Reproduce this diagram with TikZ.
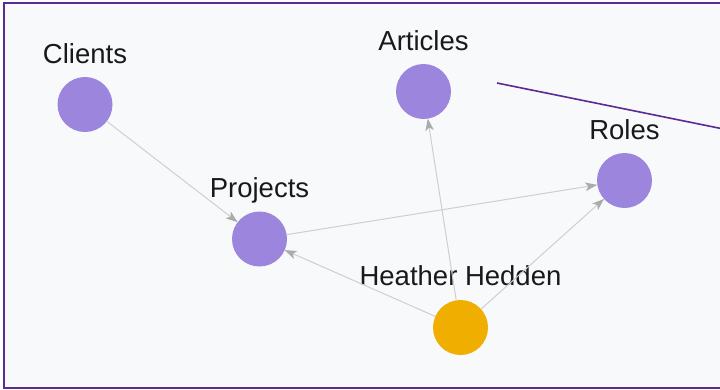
\documentclass[tikz,border=0pt]{standalone}
\usepackage{fontspec}
\setmainfont{Liberation Sans}
\usetikzlibrary{arrows.meta,calc}
\definecolor{bgpanel}{HTML}{F8F9FB}
\definecolor{framepurple}{HTML}{5B2A92}
\definecolor{nodepurple}{HTML}{9B85DD}
\definecolor{nodeorange}{HTML}{F0AE00}
\definecolor{edgegray}{HTML}{CFCFCF}
\definecolor{tipgray}{HTML}{ABABAB}
\tikzset{
  entity/.style={circle, fill=nodepurple, draw=none, minimum size=55pt, inner sep=0pt, outer sep=0pt},
  person/.style={entity, fill=nodeorange},
  lbl/.style={anchor=base, inner sep=0pt, font=\fontsize{27.5}{32}\selectfont, text=black!90},
  rel/.style={draw=edgegray, line width=1pt, -{Stealth[length=12pt, width=8.5pt, inset=3pt, color=tipgray]}},
}
\begin{document}
\begin{tikzpicture}[x=1pt, y=-1pt]
  \useasboundingbox (0,0) rectangle (720,389);
  \fill[white] (0,0) rectangle (720,389);
  \fill[bgpanel] (4,3) rectangle (724,388);
  \draw[framepurple, line width=2pt] (726,3) -- (4,3) -- (4,388) -- (726,388);

  % nodes
  \node[entity] (clients)  at (85,104.5) {};
  \node[entity] (articles) at (423.5,91.5) {};
  \node[entity] (roles)    at (624.5,180.5) {};
  \node[entity] (projects) at (259.5,239) {};
  \node[person] (heather)  at (460.5,327.5) {};

  % labels
  \node[lbl] (clientsL)  at (85,63) {Clients};
  \node[lbl] (articlesL) at (423.5,50) {Articles};
  \node[lbl] (rolesL)    at (624.5,139) {Roles};
  \node[lbl] (projectsL) at (259.5,197) {Projects};
  \node[lbl] (heatherL)  at (460.5,285) {Heather Hedden};

  % relations
  \draw[rel] (clients) -- (projects);
  \draw[rel] (projects) -- (roles);
  \draw[rel] (heather) -- (projects);
  \draw[rel] (heather) -- (articles);
  \draw[rel] (heather) -- (roles);

  % purple marker line
  \coordinate (markA) at (497,83);
  \coordinate (markB) at (720,128.3);
  \draw[framepurple, line width=1.6pt] (markA) -- ($(markA)!1.05!(markB)$);
\end{tikzpicture}
\end{document}
